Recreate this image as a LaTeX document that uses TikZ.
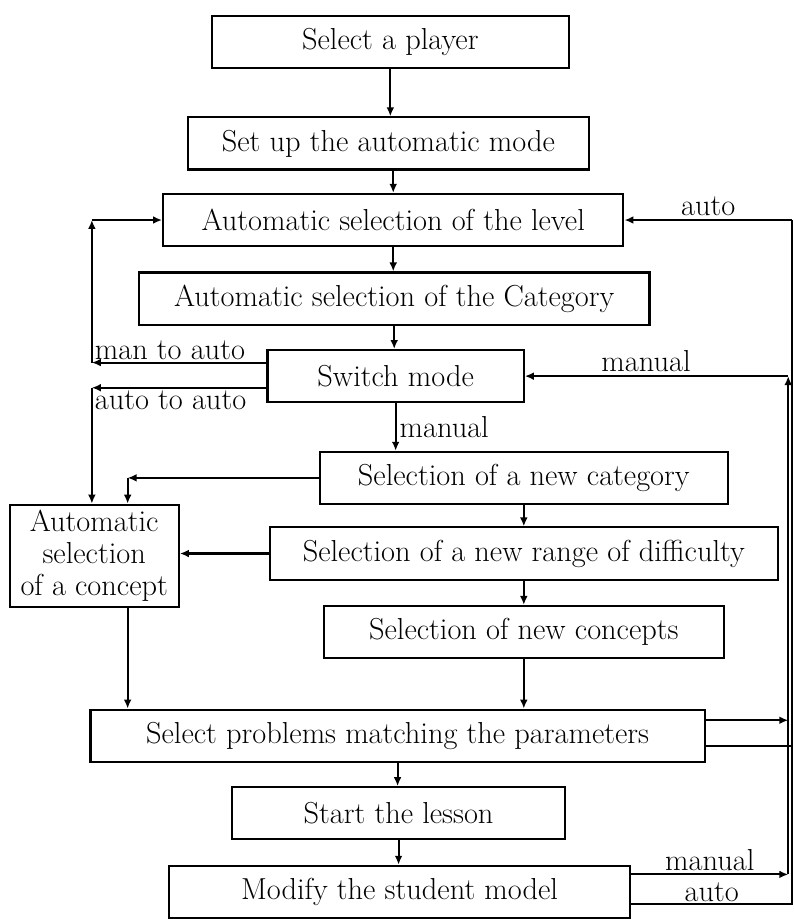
\documentclass[tikz,border=0pt]{standalone}
\usepackage{tikz}
\usetikzlibrary{arrows.meta, positioning}

\begin{document}
\begin{tikzpicture}[
  line width=1.1pt,
  box/.style={rectangle, draw, minimum height=27pt,
              font=\fontsize{15.7}{18}\selectfont, align=center, inner sep=1.5pt},
  lbl/.style={font=\fontsize{15.7}{18}\selectfont, inner sep=1.5pt},
  >={Latex[length=4.6pt,width=4pt]}
]
% Main column
\node[box, minimum width=184.5pt] (player) {Select a player};
\node[box, minimum width=207.5pt, below=24.5pt of player, xshift=-1pt] (setup) {Set up the automatic mode};
\node[box, minimum width=238pt, below=11.5pt of setup, xshift=2.5pt] (level) {Automatic selection of the level};
\node[box, minimum width=264pt, below=12.5pt of level, xshift=0.5pt] (cat) {Automatic selection of the Category};
\node[box, minimum width=132.5pt, below=12pt of cat, xshift=0.75pt] (switch) {Switch mode};

% Manual branch
\node[box, minimum width=211pt, below=24.5pt of switch, xshift=66.25pt] (newcat) {Selection of a new category};
\node[box, minimum width=262.5pt, below=11pt of newcat] (range) {Selection of a new range of difficulty};
\node[box, minimum width=207pt, below=12.5pt of range] (newcon) {Selection of new concepts};

% Automatic branch
\node[box, minimum width=87.5pt, minimum height=53pt, inner sep=0.5pt,
      left=46pt of range, yshift=-1.25pt] (autocon) {Automatic\\[-1.5pt]selection\\[-1.5pt]of a concept};

% Lesson
\node[box, minimum width=317.5pt, below=25.5pt of newcon, xshift=-65.25pt] (select) {Select problems matching the parameters};
\node[box, minimum width=172.5pt, below=12pt of select, xshift=0.5pt] (start) {Start the lesson};
\node[box, minimum width=238.5pt, below=12.5pt of start, xshift=0.5pt] (modify) {Modify the student model};

% Frame and rails
\coordinate (tl) at ([xshift=-109pt, yshift=7.5pt]player.north west);
\useasboundingbox (tl) rectangle ++(410pt,-459.5pt);
\coordinate (lrail) at ([xshift=47.5pt]tl);
\coordinate (lrail2) at ([xshift=66pt]tl);
\coordinate (rrail) at ([xshift=407.5pt]tl);
\coordinate (rrail2) at ([xshift=409.5pt]tl);

% Arrows: main column
\draw[->] (player.south) -- (player.south |- setup.north);
\draw[->] (level.north |- setup.south) -- (level.north);
\draw[->] (level.south) -- (level.south |- cat.north);
\draw[->] (cat.south) -- (cat.south |- switch.north);
\draw[->] (switch.south) -- (switch.south |- newcat.north) node[midway, right, lbl] {manual};
\draw[->] (newcat.south) -- (newcat.south |- range.north);
\draw[->] (range.south) -- (range.south |- newcon.north);
\draw[->] (newcon.south) -- (newcon.south |- select.north);
\draw[->] (select.south) -- (select.south |- start.north);
\draw[->] (start.south) -- (start.south |- modify.north);

% Switch mode -> left rails
\coordinate (m2a) at ([yshift=7pt]switch.west);
\coordinate (a2a) at ([yshift=-6pt]switch.west);
\draw[->] (m2a) -- (m2a -| lrail) node[lbl, anchor=south west, inner sep=1pt] {man to auto};
\draw[->] (m2a -| lrail) -- (lrail |- level.west);
\draw[->] (lrail |- level.west) -- (level.west);
\draw[->] (a2a) -- (a2a -| lrail) node[lbl, anchor=north west, inner sep=1pt] {auto to auto};
\draw[->] (a2a -| lrail) -- (lrail |- autocon.north);

% Manual branch -> automatic concept
\draw[->] (newcat.west) -- (newcat.west -| lrail2);
\draw[->] (newcat.west -| lrail2) -- (lrail2 |- autocon.north);
\draw[->] (range.west) -- (range.west -| autocon.east);
\draw[->] (lrail2 |- autocon.south) -- (lrail2 |- select.north);

% Right rails
\coordinate (selman) at ([yshift=8pt]select.east);
\coordinate (selauto) at ([yshift=-5.5pt]select.east);
\coordinate (modman) at ([yshift=9pt]modify.east);
\coordinate (modauto) at ([yshift=-6.5pt]modify.east);
\draw[->] (modman) -- (modman -| rrail) node[midway, above, lbl, inner sep=0pt, yshift=1.5pt] {manual};
\draw[->] (modman -| rrail) -- (rrail |- switch.east);
\draw[->] (rrail |- switch.east) -- (switch.east) node[pos=0.54, above, lbl] {manual};
\draw (modauto) -- (modauto -| rrail2) node[midway, above, lbl, inner sep=0pt, yshift=1pt] {auto} -- (rrail2 |- level.east);
\draw[->] (rrail2 |- level.east) -- (level.east) node[midway, above, lbl] {auto};
\draw[->] (selman) -- (selman -| rrail);
\draw (selauto) -- (selauto -| rrail2);

\end{tikzpicture}
\end{document}
